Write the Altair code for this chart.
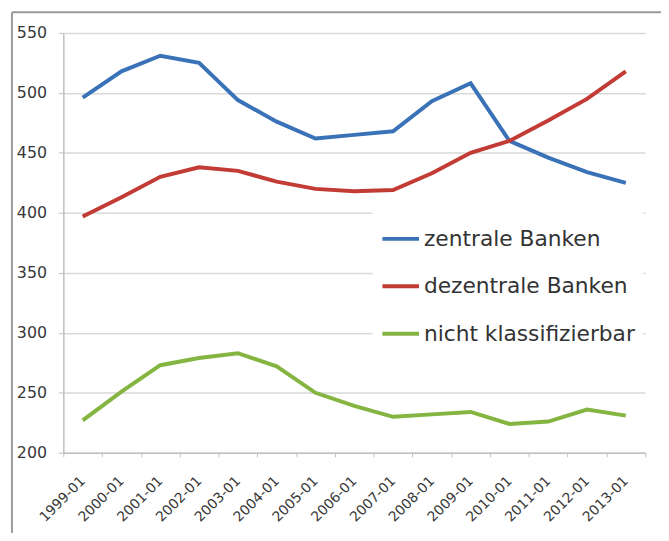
import altair as alt
import pandas as pd

months = ["1999-01", "2000-01", "2001-01", "2002-01", "2003-01", "2004-01", "2005-01",
          "2006-01", "2007-01", "2008-01", "2009-01", "2010-01", "2011-01", "2012-01", "2013-01"]
series = ["zentrale Banken", "dezentrale Banken", "nicht klassifizierbar"]
zentrale = [496, 518, 531, 525, 494, 476, 462, 465, 468, 493, 508, 460, 446, 434, 425]
dezentrale = [397, 413, 430, 438, 435, 426, 420, 418, 419, 433, 450, 460, 477, 495, 518]
nicht_klass = [227, 251, 273, 279, 283, 272, 250, 239, 230, 232, 234, 224, 226, 236, 231]
colors = ["#3a72b8", "#c23b35", "#84b541"]
y_ticks = [200, 250, 300, 350, 400, 450, 500, 550]

rows = []
for name, vals in zip(series, [zentrale, dezentrale, nicht_klass]):
    for m, v in zip(months, vals):
        rows.append({"Monat": m, "Wert": v, "Serie": name})
df = pd.DataFrame(rows)

lines = alt.Chart(df).mark_line(strokeWidth=4).encode(
    x=alt.X("Monat:N", sort=months, bandPosition=0.5,
            scale=alt.Scale(type="band", paddingInner=0, paddingOuter=0),
            axis=alt.Axis(title=None, labelAngle=-45, labelAlign="right", labelBaseline="middle",
                          labelFont="DejaVu Sans", labelFontSize=14, labelColor="#383838",
                          tickBand="extent", tickSize=4, tickColor="#bfbfbf",
                          domainColor="#bfbfbf", domainWidth=1.5, labelPadding=22,
                          grid=False)),
    y=alt.Y("Wert:Q", scale=alt.Scale(domain=[200, 550], nice=False, zero=False),
            axis=alt.Axis(title=None, values=y_ticks, labelFont="DejaVu Sans", labelFontSize=16,
                          labelColor="#383838", tickSize=5, tickColor="#bfbfbf",
                          domainColor="#bfbfbf", domainWidth=1.5, labelPadding=12,
                          gridColor="#d9d9d9", gridWidth=1.5)),
    color=alt.Color("Serie:N", sort=series, scale=alt.Scale(domain=series, range=colors),
                    legend=alt.Legend(title=None, orient="none", legendX=313, legendY=180,
                                      symbolType="stroke", symbolSize=1369, symbolStrokeWidth=4,
                                      labelFont="DejaVu Sans", labelFontSize=22, labelColor="#333333",
                                      labelOffset=3, labelLimit=400, fillColor="white",
                                      padding=8, rowPadding=16)),
)

frame_src = alt.Chart(pd.DataFrame({"a": [0]}))
frame_top = frame_src.mark_rule(color="#9a9a9a", strokeWidth=2).encode(
    x=alt.value(-52), x2=alt.value(660), y=alt.value(-21))
frame_left = frame_src.mark_rule(color="#9a9a9a", strokeWidth=2).encode(
    x=alt.value(-52), y=alt.value(-21), y2=alt.value(520))

chart = alt.layer(lines, frame_top, frame_left).properties(
    width=589, height=425,
    autosize=alt.AutoSizeParams(type="none"),
    padding={"left": 56, "top": 22, "right": 16, "bottom": 78},
    background="white",
).configure_view(stroke=None)

chart.save("out.html", embed_options={"renderer": "svg", "actions": False})
